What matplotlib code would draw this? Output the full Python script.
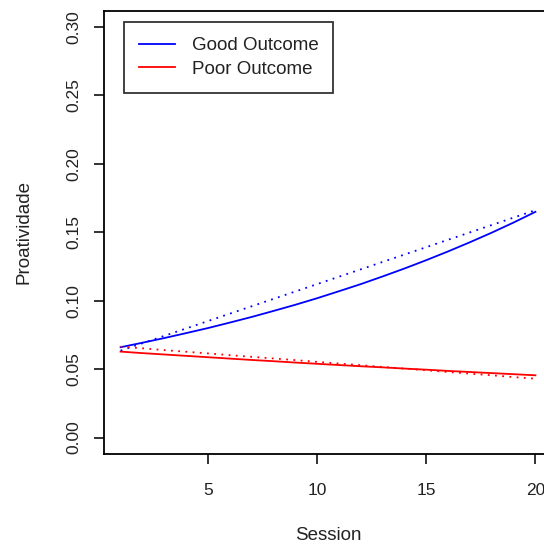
import matplotlib
matplotlib.use("Agg")
import matplotlib.pyplot as plt
from matplotlib.lines import Line2D

plt.rcParams['font.family'] = ['Liberation Sans', 'DejaVu Sans']

# sessões 1..20
session = list(range(1, 21))

# curvas ajustadas (linha contínua)
good_fit = [0.0660, 0.0693, 0.0727, 0.0763, 0.0800, 0.0840, 0.0881, 0.0925, 0.0970, 0.1018,
            0.1069, 0.1121, 0.1177, 0.1235, 0.1296, 0.1360, 0.1427, 0.1497, 0.1571, 0.1649]
poor_fit = [0.0628, 0.0617, 0.0607, 0.0597, 0.0587, 0.0577, 0.0567, 0.0558, 0.0548, 0.0539,
            0.0530, 0.0521, 0.0513, 0.0504, 0.0496, 0.0487, 0.0479, 0.0471, 0.0463, 0.0455]

# tendência (linha pontilhada)
good_trend = [0.0635, 0.0689, 0.0743, 0.0797, 0.0851, 0.0905, 0.0959, 0.1013, 0.1067, 0.1121,
              0.1175, 0.1229, 0.1283, 0.1337, 0.1391, 0.1445, 0.1499, 0.1553, 0.1607, 0.1661]
poor_trend = [0.0664, 0.0652, 0.0639, 0.0627, 0.0615, 0.0602, 0.0590, 0.0578, 0.0566, 0.0553,
              0.0541, 0.0529, 0.0516, 0.0504, 0.0492, 0.0479, 0.0467, 0.0455, 0.0442, 0.0430]

xticks = [5, 10, 15, 20]
yticks = [0.00, 0.05, 0.10, 0.15, 0.20, 0.25, 0.30]
labels = ['Good Outcome', 'Poor Outcome']
colors = ['#0000ff', '#ff0000']

fig = plt.figure(figsize=(5.44, 5.47), dpi=100)
ax = fig.add_axes([104 / 544, (547 - 454) / 547, 448 / 544, 443.5 / 547])

ax.plot(session, good_fit, color=colors[0], lw=1.3)
ax.plot(session, poor_fit, color=colors[1], lw=1.3)
ax.plot(session, good_trend, color=colors[0], lw=1.3, linestyle=(0, (1, 3)))
ax.plot(session, poor_trend, color=colors[1], lw=1.3, linestyle=(0, (1, 3)))

ax.set_xlim(0.24, 20.76)
ax.set_ylim(-0.012, 0.312)
ax.set_xticks(xticks)
ax.set_xticklabels([str(t) for t in xticks])
ax.set_yticks(yticks)
ax.set_yticklabels([f'{t:.2f}' for t in yticks], rotation=90, va='center')

for s in ax.spines.values():
    s.set_linewidth(1.3)
ax.tick_params(length=7, width=1.3, labelsize=12.5, colors='#222222')
ax.tick_params(axis='x', pad=14)
ax.tick_params(axis='y', pad=9)

ax.set_xlabel('Session', fontsize=13.5, labelpad=21, color='#222222')
ax.set_ylabel('Proatividade', fontsize=13.5, labelpad=25, color='#222222')

handles = [Line2D([], [], color=c, lw=1.3) for c in colors]
leg = ax.legend(handles, labels, loc='upper left', bbox_to_anchor=(0.045, 0.974),
                fontsize=13.5, frameon=True, fancybox=False, edgecolor='black',
                borderpad=0.8, handlelength=1.9, handletextpad=0.9, labelspacing=0.35,
                borderaxespad=0)
leg.get_frame().set_linewidth(1.3)
for t in leg.get_texts():
    t.set_color('#222222')

fig.savefig('out.png', dpi=100)
